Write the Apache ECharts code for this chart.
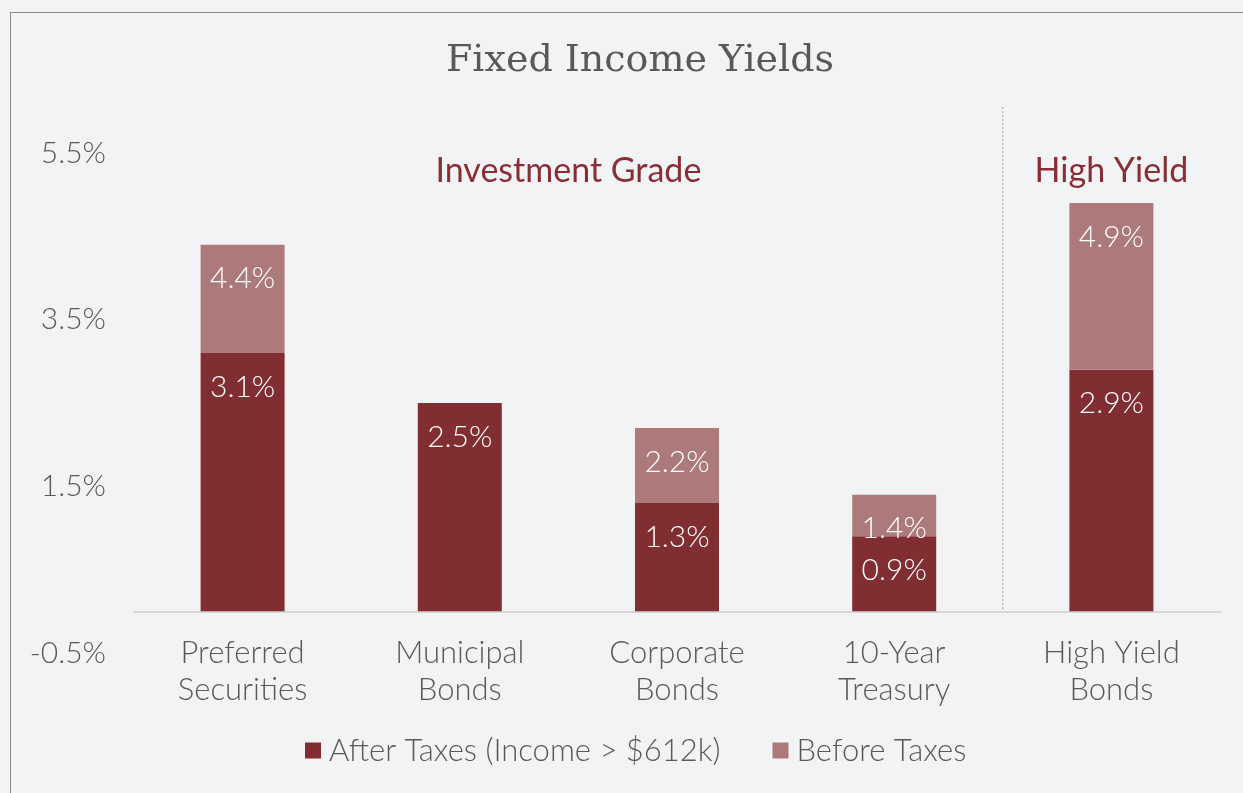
<!DOCTYPE html>
<html>
<head>
<meta charset="utf-8">
<script src="https://cdn.jsdelivr.net/npm/echarts@6/dist/echarts.min.js"></script>
<style>
    html, body { margin: 0; padding: 0; background: #f2f3f5; }
    #chart { width: 1243px; height: 793px; }
    #frame {
        position: absolute; left: 10px; top: 12px; right: -5px; bottom: -5px;
        border-left: 1.5px solid #8a8a8a; border-top: 1.5px solid #8a8a8a;
        pointer-events: none;
    }
</style>
</head>
<body>
<div id="chart"></div>
<div id="frame"></div>
<script>
// categories and values
var categories = ['Preferred\nSecurities', 'Municipal\nBonds', 'Corporate\nBonds', '10-Year\nTreasury', 'High Yield\nBonds'];
var afterTaxes = [3.1, 2.5, 1.3, 0.9, 2.9];
var beforeTaxes = [4.4, null, 2.2, 1.4, 4.9];
var yTicks = [-0.5, 1.5, 3.5, 5.5];
var legendNames = ['After Taxes (Income > $612k)', 'Before Taxes'];

var labelFont = 'Lato, "Open Sans", sans-serif';
var dark = '#812e33';
var light = '#ad7a7b';
var grey = '#595959';

// the light segment sits on top of the dark one, up to the before-tax yield
var beforeExtra = [];
for (var i = 0, len = beforeTaxes.length; i < len; i++) {
    beforeExtra.push(beforeTaxes[i] == null ? null : +(beforeTaxes[i] - afterTaxes[i]).toFixed(2));
}

function pctOf (list) {
    return function (params) {
        var v = list[params.dataIndex];
        if (v == null) {
            return '';
        }
        return v.toFixed(1) + '%';
    };
}

var barLabel = {
    show: true,
    position: 'insideTop',
    distance: 19,
    fontFamily: labelFont,
    fontWeight: 300,
    fontSize: 30,
    color: '#ffffff'
};

var chart = echarts.init(document.getElementById('chart'));
var option = {
    backgroundColor: 'transparent',
    animation: false,
    title: {
        text: 'Fixed Income Yields',
        left: 635,
        top: 37,
        textAlign: 'center',
        textStyle: {
            fontFamily: '"DejaVu Serif", "Liberation Serif", serif',
            fontSize: 38,
            fontWeight: 'normal',
            color: grey
        }
    },
    legend: {
        data: legendNames,
        left: 300,
        top: 730,
        itemWidth: 16,
        itemHeight: 16,
        itemGap: 52,
        icon: 'rect',
        textStyle: {
            fontFamily: labelFont,
            fontWeight: 300,
            fontSize: 31,
            color: grey,
            padding: [0, 0, 0, 3]
        }
    },
    grid: {
        left: 134,
        right: 23,
        top: 153,
        bottom: 140
    },
    xAxis: {
        type: 'category',
        data: categories,
        axisTick: { show: false },
        axisLine: {
            onZero: true,
            lineStyle: { color: '#d6d6d6', width: 2 }
        },
        axisLabel: {
            margin: -19,
            fontFamily: labelFont,
            fontWeight: 300,
            fontSize: 31,
            lineHeight: 37,
            color: grey
        }
    },
    yAxis: {
        type: 'value',
        min: yTicks[0],
        max: yTicks[yTicks.length - 1],
        interval: 2,
        splitLine: { show: false },
        axisLine: { show: false },
        axisTick: { show: false },
        axisLabel: {
            margin: 28,
            fontFamily: labelFont,
            fontWeight: 300,
            fontSize: 30,
            color: grey,
            formatter: function (v) {
                return v.toFixed(1) + '%';
            }
        }
    },
    series: [
        {
            name: legendNames[0],
            type: 'bar',
            stack: 'yield',
            data: afterTaxes,
            barWidth: 84,
            itemStyle: { color: dark },
            label: Object.assign({}, barLabel, { formatter: pctOf(afterTaxes) })
        },
        {
            name: legendNames[1],
            type: 'bar',
            stack: 'yield',
            data: beforeExtra,
            barWidth: 84,
            itemStyle: { color: light },
            label: Object.assign({}, barLabel, { formatter: pctOf(beforeTaxes) })
        }
    ]
};
chart.setOption(option);

// section headers and divider placed from the axis scale
var xFirst = chart.convertToPixel({ xAxisIndex: 0 }, 0);
var xFourth = chart.convertToPixel({ xAxisIndex: 0 }, 3);
var xLast = chart.convertToPixel({ xAxisIndex: 0 }, 4);
var yZero = chart.convertToPixel({ yAxisIndex: 0 }, 0);
var yHead = chart.convertToPixel({ yAxisIndex: 0 }, 5.28);
var yTop = chart.convertToPixel({ yAxisIndex: 0 }, 6.05);
var xDiv = (xFourth + xLast) / 2;

chart.setOption({
    graphic: [
        {
            type: 'line',
            shape: { x1: xDiv, y1: yTop, x2: xDiv, y2: yZero },
            style: { stroke: '#9a9a9a', lineWidth: 1, lineDash: [2, 2] }
        },
        {
            type: 'text',
            x: (xFirst + xFourth) / 2,
            y: yHead,
            style: {
                text: 'Investment Grade',
                textAlign: 'center',
                textVerticalAlign: 'middle',
                font: '34px ' + labelFont,
                fill: '#8a2e36'
            }
        },
        {
            type: 'text',
            x: xLast,
            y: yHead,
            style: {
                text: 'High Yield',
                textAlign: 'center',
                textVerticalAlign: 'middle',
                font: '34px ' + labelFont,
                fill: '#8a2e36'
            }
        }
    ]
});
</script>
</body>
</html>
